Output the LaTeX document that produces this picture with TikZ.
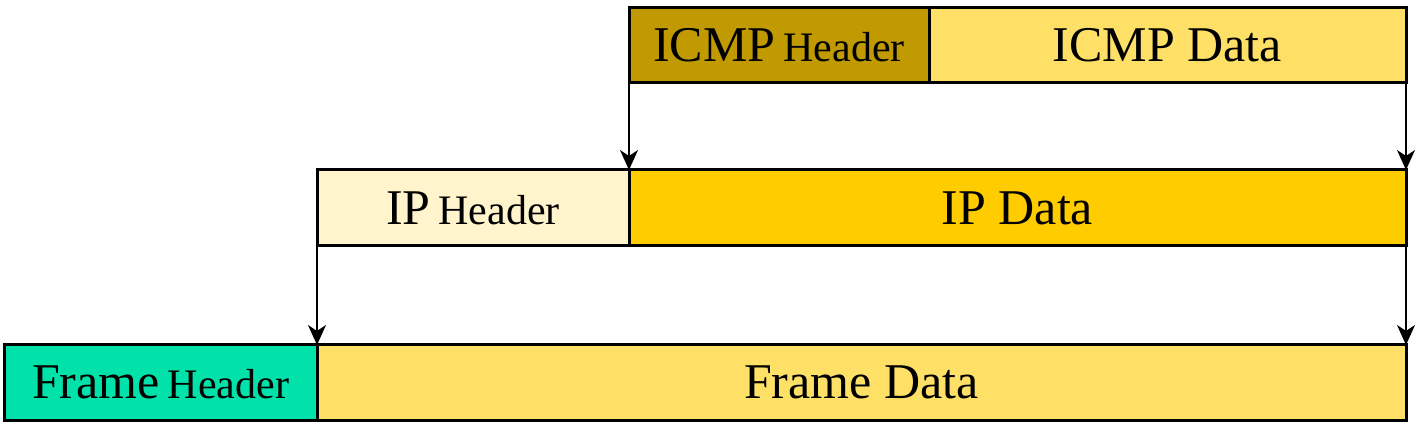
\documentclass[tikz,border=0pt]{standalone}
\usepackage{fontspec}
\setmainfont{Liberation Serif}
\usetikzlibrary{arrows.meta, positioning}
\definecolor{icmphdr}{RGB}{192,154,0}
\definecolor{lightdata}{RGB}{255,224,102}
\definecolor{iphdr}{RGB}{255,244,204}
\definecolor{ipdata}{RGB}{255,204,0}
\definecolor{framehdr}{RGB}{0,226,170}
\newcommand{\bigtxt}[1]{{\fontsize{25}{30}\selectfont #1}}
\newcommand{\smalltxt}[1]{{\fontsize{21}{25}\selectfont #1}}

\begin{document}
\begin{tikzpicture}[
  field/.style={rectangle, draw, line width=1.5pt, inner sep=0pt, outer sep=0pt, anchor=north west},
  arrow/.style={-{Stealth[length=10pt, width=9pt, inset=3pt]}, line width=1pt},
  node distance=0pt
  ]
  \useasboundingbox (0,0) rectangle (712.5pt,-221.5pt);
  % ICMP message
  \node[field, fill=icmphdr, minimum width=150pt, minimum height=37.5pt] (icmph) at (314.5pt,-4pt) {\bigtxt{ICMP}\hspace{4pt}\smalltxt{Header}};
  \node[field, fill=lightdata, minimum width=238.5pt, minimum height=37.5pt, right=of icmph.east] (icmpd) {\bigtxt{ICMP Data}};
  % IP packet
  \node[field, fill=iphdr, minimum width=156pt, minimum height=38pt] (iph) at (158.5pt,-85pt) {\bigtxt{IP}\hspace{4pt}\smalltxt{Header}};
  \node[field, fill=ipdata, minimum width=388.5pt, minimum height=38pt, right=of iph.east] (ipd) {\bigtxt{IP Data}};
  % frame
  \node[field, fill=framehdr, minimum width=156.5pt, minimum height=37.5pt] (frh) at (2pt,-172.5pt) {\bigtxt{Frame}\hspace{4pt}\smalltxt{Header}};
  \node[field, fill=lightdata, minimum width=544.5pt, minimum height=37.5pt, right=of frh.east] (frd) {\bigtxt{Frame Data}};
  \draw[arrow] (icmph.south west) -- (ipd.north west);
  \draw[arrow] (icmpd.south east) -- (ipd.north east);
  \draw[arrow] (iph.south west) -- (frd.north west);
  \draw[arrow] (ipd.south east) -- (frd.north east);
\end{tikzpicture}
\end{document}
